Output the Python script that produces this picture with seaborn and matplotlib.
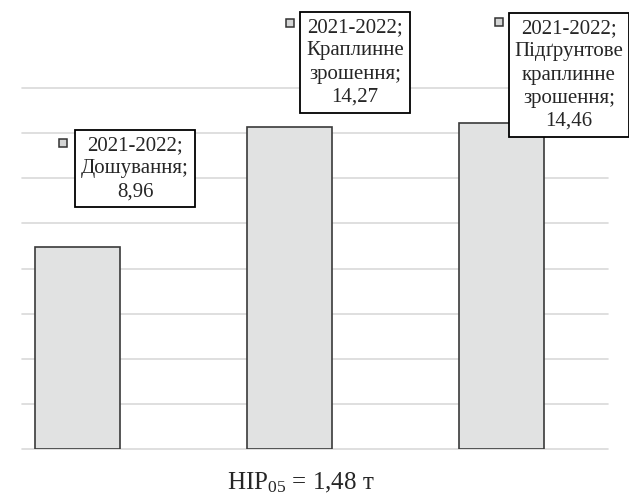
import matplotlib
matplotlib.use("Agg")
import matplotlib.pyplot as plt
import matplotlib.transforms as mtransforms
import seaborn as sns
import pandas as pd

# ---- data ----
period = "2021-2022"
categories = ["Дошування", "Краплинне зрошення", "Підґрунтове краплинне зрошення"]
label_lines = ["Дошування;", "Краплинне\nзрошення;", "Підґрунтове\nкраплинне\nзрошення;"]
values = [8.96, 14.27, 14.46]
y_ticks = [0, 2, 4, 6, 8, 10, 12, 14, 16]
footnote_value = "1,48"

# ---- style ----
sns.set_style("white")
plt.rcParams["font.family"] = ["Liberation Serif", "DejaVu Serif"]
plt.rcParams["mathtext.fontset"] = "custom"
plt.rcParams["mathtext.rm"] = "Liberation Serif"
plt.rcParams["mathtext.it"] = "Liberation Serif:italic"

df = pd.DataFrame({"cat": categories, "val": values})

fig = plt.figure(figsize=(6.29, 4.94), dpi=100)
ax = fig.add_axes([22 / 629, 1 - 449 / 494, 586 / 629, (449 - 88) / 494])

sns.barplot(data=df, x="cat", y="val", color="#e1e2e2", edgecolor="#3a3a3a",
            linewidth=1.2, width=0.4, saturation=1, ax=ax, zorder=2)

ax.set_xlim(-0.262, 2.502)
ax.set_ylim(0, 16)
ax.set_yticks(y_ticks)
ax.grid(axis="y", color="#d9d9d9", linewidth=1.2)
ax.grid(axis="x", visible=False)
for gl in ax.get_ygridlines():
    gl.set_clip_on(False)
ax.set_axisbelow(True)
ax.set_xticks([])
ax.set_yticklabels([])
ax.tick_params(left=False, bottom=False)
ax.set_xlabel("")
ax.set_ylabel("")
for s in ax.spines.values():
    s.set_visible(False)

# label layout (pixel offsets from bar top centre)
label_offsets = [(57.5, 78.0), (65.5, 64.5), (67.5, 47.7)]
marker_offsets = [(-14.5, 103.8), (0.5, 104.5), (-2.5, 100.7)]

for i, (lines, v) in enumerate(zip(label_lines, values)):
    txt = f"{period};\n{lines}\n{v:.2f}".replace(".", ",")
    dx, dy = label_offsets[i]
    tr = mtransforms.offset_copy(ax.transData, fig=fig, x=dx, y=dy, units="dots")
    ax.text(i, v, txt, transform=tr, ha="center", va="center", multialignment="center",
            fontsize=15, linespacing=1.3, zorder=5, clip_on=False,
            bbox=dict(boxstyle="square,pad=0.28", fc="white", ec="black", lw=1.3))
    mdx, mdy = marker_offsets[i]
    trm = mtransforms.offset_copy(ax.transData, fig=fig, x=mdx, y=mdy, units="dots")
    ax.plot([i], [v], marker="s", markersize=6.3, markerfacecolor="#d4d5d5",
            markeredgecolor="#333333", markeredgewidth=1.1, transform=trm,
            clip_on=False, zorder=6, linestyle="none")

fig.text(301 / 629, 1 - 489 / 494, r"НІР$_{\mathrm{05}}$ = " + footnote_value + " т",
         ha="center", va="baseline", fontsize=18)

fig.savefig("out.png", dpi=100)
